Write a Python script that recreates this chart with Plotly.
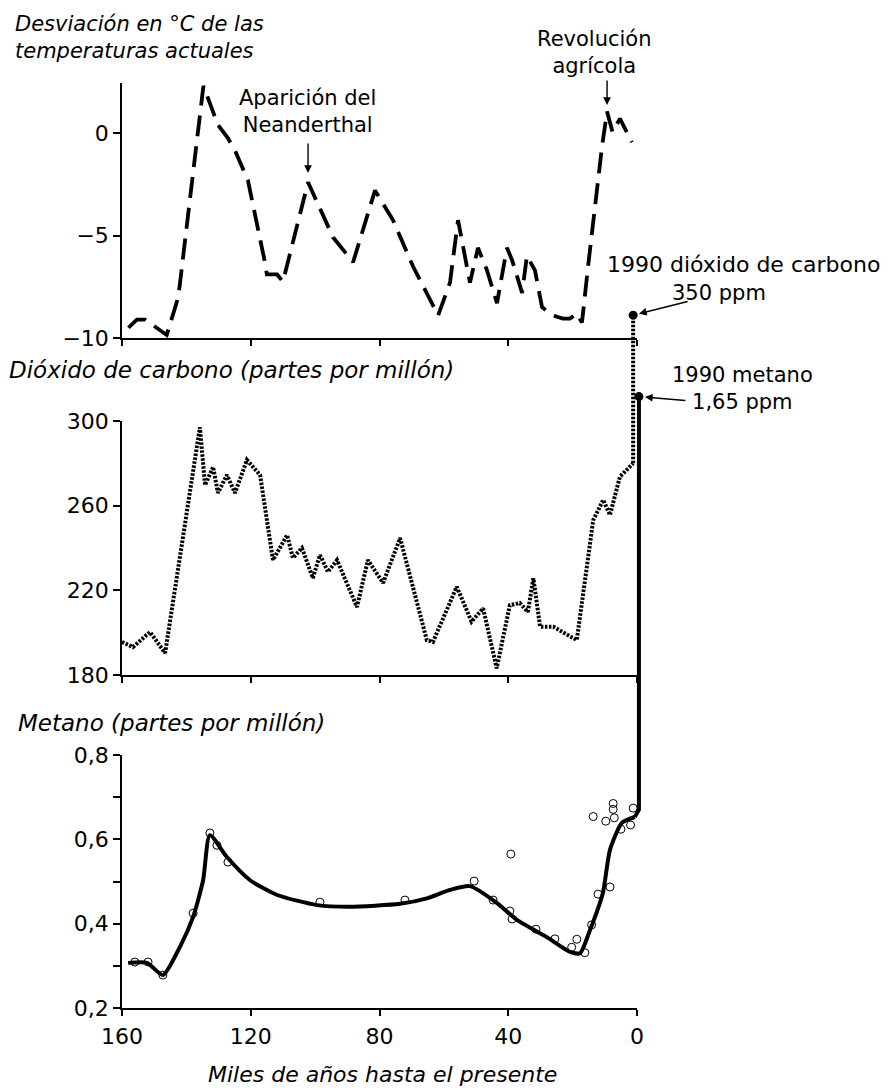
import plotly.graph_objects as go

# reference canvas and the page offset of the plot div (browser body margin)
REF_W, REF_H = 888, 1091
OFF = 8
W, H = REF_W - OFF, REF_H - OFF

# ---------------- data ----------------
# Temperature deviation (°C) vs thousands of years before present
temp_x = [158.0, 155.4, 152.9, 146.1, 142.5, 134.7, 130.2, 127.1, 124.9, 120.9,
          115.6, 115.0, 111.8, 110.0, 102.2, 98.5, 94.4, 88.2, 81.4, 75.8,
          69.6, 61.8, 58.1, 55.6, 54.1, 51.9, 49.4, 46.6, 43.5, 40.4,
          38.8, 35.7, 34.2, 31.7, 29.5, 26.1, 23.0, 20.8, 18.7, 17.1,
          15.2, 10.9, 9.3, 7.6, 5.3, 1.6]
temp_y = [-9.5, -9.1, -9.1, -9.85, -8.0, 2.3, 0.4, -0.25, -0.85, -2.3,
          -6.3, -6.9, -6.9, -7.25, -2.4, -3.7, -5.1, -6.3, -2.8, -4.25,
          -6.5, -8.9, -7.3, -4.25, -5.4, -7.3, -5.6, -6.7, -8.3, -5.6,
          -6.2, -7.8, -6.0, -6.7, -8.5, -8.9, -9.05, -9.05, -8.8, -9.25,
          -6.5, -0.7, 1.05, 0.05, 0.7, -0.45]

# Carbon dioxide (ppm)
co2_x = [160, 156.6, 151.3, 146.6, 135.8, 134.2, 131.7, 130.2, 127.4, 124.9,
         121.2, 117.1, 113.1, 108.7, 106.9, 104.1, 100.7, 98.5, 96.0, 93.2,
         87.0, 83.6, 78.9, 73.6, 65.3, 63.4, 56.0, 51.4, 47.8, 43.6,
         39.5, 36.4, 33.9, 32.2, 30.1, 26.0, 18.7, 13.6, 10.5, 8.4,
         5.3, 1.2]
co2_y = [195.6, 193.2, 200.3, 190.4, 297, 269.7, 278.3, 266, 274.5, 266,
         281.6, 274.5, 234.3, 246.1, 235.3, 240, 225.8, 236.7, 228.7, 234.3,
         212.1, 234.3, 223.5, 244.7, 196.5, 195.6, 221.7, 205.2, 211.5, 183.2,
         213, 214, 209.8, 225.7, 202.8, 202.8, 196.5, 253.2, 262.7, 255.6,
         273.7, 280.0]
co2_1990_x = [1.2, 1.2]
co2_1990_y = [280.0, 350.0]

# Methane (ppm): fitted curve and measurements
ch4_line_x = [158.1, 152.2, 147.3, 142.0, 137.9, 134.8, 132.7, 127.4, 120.2, 111.8,
              99.4, 89.2, 73.6, 65.3, 58.1, 51.9, 43.5, 37.3, 28.0, 20.8,
              17.7, 14.6, 10.6, 8.4, 4.7, 0.7]
ch4_line_y = [0.307, 0.307, 0.278, 0.345, 0.416, 0.503, 0.61, 0.558, 0.503, 0.468,
              0.444, 0.44, 0.447, 0.46, 0.48, 0.489, 0.449, 0.409, 0.368, 0.333,
              0.33, 0.385, 0.473, 0.575, 0.639, 0.653]
ch4_pts_x = [156.0, 151.9, 147.3, 137.9, 132.7, 130.5, 127.1, 98.5, 72.1, 50.6,
             44.7, 39.5, 38.8, 39.2, 31.4, 25.5, 20.3, 18.7, 16.2, 14.1,
             12.1, 8.4, 13.6, 9.7, 7.05, 7.4, 7.4, 5.0, 2.0, 1.2]
ch4_pts_y = [0.309, 0.309, 0.278, 0.425, 0.615, 0.586, 0.546, 0.451, 0.456, 0.501,
             0.456, 0.43, 0.411, 0.565, 0.387, 0.364, 0.344, 0.363, 0.331, 0.397,
             0.47, 0.487, 0.654, 0.643, 0.651, 0.671, 0.685, 0.624, 0.634, 0.674]
ch4_1990_x = [0.7, -0.6, -0.6]
ch4_1990_y = [0.653, 0.67, 1.65]

x_ticks = [160, 120, 80, 40, 0]
temp_ticks = [0, -5, -10]
co2_ticks = [300, 260, 220, 180]
ch4_ticks = [0.8, 0.6, 0.4, 0.2]
ch4_ticklabels = ["0,8", "0,6", "0,4", "0,2"]
ch4_minor = [0.3, 0.5, 0.7]

# ---------------- layout geometry (reference pixels) ----------------
X_PX = (122, 637)
TOP_PX = (83, 338)
MID_PX = (421, 675)
BOT_PX = (755, 1008)
X_RANGE = [160, 0]
TEMP_RANGE = [-10, 2.44]
CO2_RANGE = [180, 300]
CH4_RANGE = [0.2, 0.8]


def px(x):
    return (x - OFF) / W


def py(y):
    return 1 - (y - OFF) / H


def ydom(p):
    return [py(p[1]), py(p[0])]


# extension subplots keep the same data scale but reach higher
EXT_X_PX = (122, 660)
xs = (X_RANGE[0] - X_RANGE[1]) / (X_PX[1] - X_PX[0])
ext_x_range = [X_RANGE[0], X_RANGE[0] - (EXT_X_PX[1] - EXT_X_PX[0]) * xs]
EXT_CO2_PX = (290, MID_PX[1])
cs = (CO2_RANGE[1] - CO2_RANGE[0]) / (MID_PX[1] - MID_PX[0])
ext_co2_range = [CO2_RANGE[0], CO2_RANGE[0] + (EXT_CO2_PX[1] - EXT_CO2_PX[0]) * cs]
EXT_CH4_PX = (370, BOT_PX[1])
ms = (CH4_RANGE[1] - CH4_RANGE[0]) / (BOT_PX[1] - BOT_PX[0])
ext_ch4_range = [CH4_RANGE[0], CH4_RANGE[0] + (EXT_CH4_PX[1] - EXT_CH4_PX[0]) * ms]

FONT = "'DejaVu Sans', 'Open Sans', sans-serif"
TICKFONT = dict(family=FONT, size=22, color="black")
BLACK = "black"
DOTTED = "2.5px,1.5px"

fig = go.Figure()

fig.add_trace(go.Scatter(x=temp_x, y=temp_y, xaxis="x", yaxis="y", mode="lines",
                         line=dict(color=BLACK, width=3.8, dash="21px,10px"),
                         hoverinfo="skip"))
fig.add_trace(go.Scatter(x=co2_x, y=co2_y, xaxis="x2", yaxis="y2", mode="lines",
                         line=dict(color=BLACK, width=4, dash=DOTTED),
                         hoverinfo="skip"))
fig.add_trace(go.Scatter(x=co2_1990_x, y=co2_1990_y, xaxis="x4", yaxis="y4",
                         mode="lines", line=dict(color=BLACK, width=4, dash=DOTTED),
                         hoverinfo="skip"))
fig.add_trace(go.Scatter(x=co2_1990_x[-1:], y=co2_1990_y[-1:], xaxis="x4", yaxis="y4",
                         mode="markers", marker=dict(color=BLACK, size=9),
                         hoverinfo="skip"))
fig.add_trace(go.Scatter(x=ch4_line_x, y=ch4_line_y, xaxis="x3", yaxis="y3", mode="lines",
                         line=dict(color=BLACK, width=4, shape="spline", smoothing=0.6),
                         hoverinfo="skip"))
fig.add_trace(go.Scatter(x=ch4_pts_x, y=ch4_pts_y, xaxis="x3", yaxis="y3", mode="markers",
                         marker=dict(symbol="circle-open", size=8, color=BLACK,
                                     line=dict(width=1, color=BLACK)),
                         hoverinfo="skip"))
fig.add_trace(go.Scatter(x=ch4_1990_x, y=ch4_1990_y, xaxis="x4", yaxis="y5", mode="lines",
                         line=dict(color=BLACK, width=4), hoverinfo="skip"))
fig.add_trace(go.Scatter(x=ch4_1990_x[-1:], y=ch4_1990_y[-1:], xaxis="x4", yaxis="y5",
                         mode="markers", marker=dict(color=BLACK, size=9),
                         hoverinfo="skip"))

xcommon = dict(domain=[px(X_PX[0]), px(X_PX[1])], range=X_RANGE, showgrid=False,
               zeroline=False, showline=True, linecolor=BLACK, linewidth=1.5,
               ticks="outside", ticklen=6, tickwidth=1.5, tickcolor=BLACK,
               tickvals=x_ticks, tickfont=TICKFONT, fixedrange=True,
               automargin=False)
ycommon = dict(showgrid=False, zeroline=False, showline=True, linecolor=BLACK,
               linewidth=1.5, ticks="outside", ticklen=7, tickwidth=1.5,
               tickcolor=BLACK, tickfont=TICKFONT, fixedrange=True,
               automargin=False)
hidden = dict(visible=False, fixedrange=True, automargin=False,
              showgrid=False, zeroline=False)

fig.update_layout(
    width=W, height=H, autosize=False,
    margin=dict(l=0, r=0, t=0, b=0, pad=0, autoexpand=False),
    paper_bgcolor="white", plot_bgcolor="rgba(0,0,0,0)",
    showlegend=False,
    xaxis=dict(xcommon, anchor="y", showticklabels=False),
    xaxis2=dict(xcommon, anchor="y2", showticklabels=False),
    xaxis3=dict(xcommon, anchor="y3", showticklabels=True,
                ticklabelstandoff=2),
    xaxis4=dict(hidden, domain=[px(EXT_X_PX[0]), px(EXT_X_PX[1])],
                range=ext_x_range, anchor="y4"),
    yaxis=dict(ycommon, domain=ydom(TOP_PX), range=TEMP_RANGE, anchor="x",
               tickvals=temp_ticks),
    yaxis2=dict(ycommon, domain=ydom(MID_PX), range=CO2_RANGE, anchor="x2",
                tickvals=co2_ticks),
    yaxis3=dict(ycommon, domain=ydom(BOT_PX), range=CH4_RANGE, anchor="x3",
                tickvals=ch4_ticks, ticktext=ch4_ticklabels,
                minor=dict(tickvals=ch4_minor, ticks="outside", ticklen=7,
                           tickwidth=1.5, tickcolor=BLACK)),
    yaxis4=dict(hidden, domain=ydom(EXT_CO2_PX), range=ext_co2_range, anchor="x4"),
    yaxis5=dict(hidden, domain=ydom(EXT_CH4_PX), range=ext_ch4_range, anchor="x4"),
)

TXT = dict(family=FONT, size=21, color=BLACK)
ITAL = "<i>{}</i>"
NB = "\u00a0"


def label(text, x, y, xanchor="left", size=21, italic=False, align="left"):
    fig.add_annotation(text=ITAL.format(text) if italic else text,
                       xref="paper", yref="paper", x=px(x), y=py(y),
                       xanchor=xanchor, yanchor="middle", showarrow=False,
                       font=dict(TXT, size=size), align=align)


# panel titles
label("Desviación en °C de las<br>temperaturas actuales", 13, 38, size=21, italic=True)
label("Dióxido de carbono (partes por millón)", 7, 370, size=23, italic=True)
label("Metano (partes por millón)", 16, 723, size=23, italic=True)
label("Miles de años hasta el presente", 382, 1074, xanchor="center", size=22, italic=True)

# event labels
label("Aparición del<br>Neanderthal", 307, 112, xanchor="center", align="center")
label("Revolución<br>agrícola", 594, 52, xanchor="center", align="center")
label("1990 dióxido de carbono", 605, 265, size=22)
label("350 ppm", 670, 293)
label("1990 metano<br>" + NB * 3 + "1,65 ppm", 670, 388)

ARROW = dict(showarrow=True, arrowhead=2, arrowsize=1.1, arrowwidth=1.4,
             arrowcolor=BLACK, text="", axref="pixel", ayref="pixel")
# Neanderthal arrow
fig.add_annotation(ARROW, x=102.2, y=-1.95, xref="x", yref="y", ax=0, ay=-31)
# agricultural revolution arrow
fig.add_annotation(ARROW, x=9.3, y=1.37, xref="x", yref="y", ax=0, ay=-26)
# 1990 CO2 arrow
fig.add_annotation(ARROW, x=co2_1990_x[-1], y=co2_1990_y[-1], xref="x4", yref="y4",
                   ax=56, ay=-14, standoff=6)
# 1990 methane arrow
fig.add_annotation(ARROW, x=ch4_1990_x[-1], y=ch4_1990_y[-1], xref="x4", yref="y5",
                   ax=48, ay=4, standoff=6)

fig.write_html("out.html")
